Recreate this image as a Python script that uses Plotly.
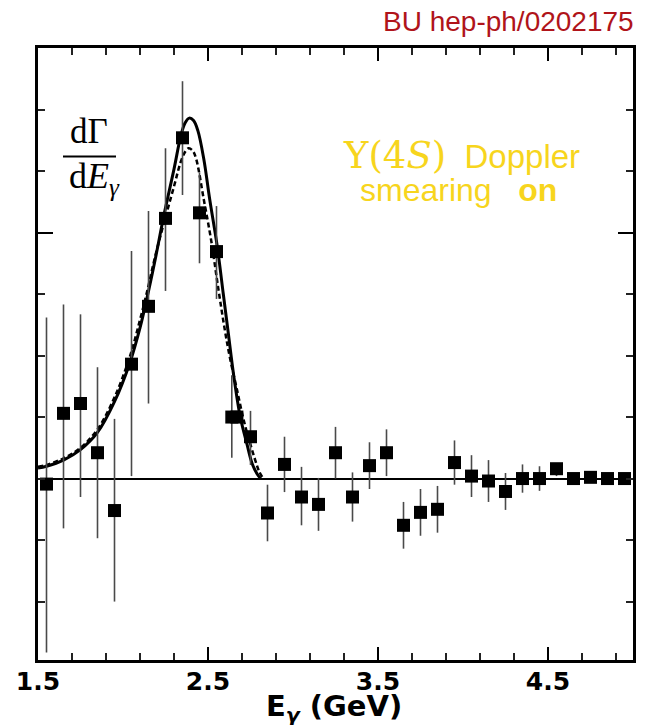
import plotly.graph_objects as go

# ---------------- data ----------------
x_pts = [1.55, 1.65, 1.75, 1.85, 1.95, 2.05, 2.15, 2.25, 2.35, 2.45, 2.55, 2.64, 2.67,
         2.75, 2.85, 2.95, 3.05, 3.15, 3.25, 3.35, 3.45, 3.55, 3.65, 3.75, 3.85, 3.95,
         4.05, 4.15, 4.25, 4.35, 4.45, 4.55, 4.65, 4.75, 4.85, 4.95]
y_pts = [-0.09, 1.06, 1.22, 0.42, -0.52, 1.86, 2.80, 4.23, 5.54, 4.32, 3.69, 1.00, 1.00,
         0.68, -0.56, 0.23, -0.30, -0.42, 0.42, -0.30, 0.21, 0.42, -0.76, -0.55, -0.50, 0.26,
         0.04, -0.04, -0.21, 0.00, 0.00, 0.16, 0.00, 0.02, 0.00, 0.00]
err_up = [2.71, 1.77, 1.45, 1.39, 1.49, 1.84, 1.55, 1.14, 0.92, 0.66, 0.74, 0.68, 0.0,
          0.42, 0.46, 0.45, 0.49, 0.43, 0.42, 0.40, 0.38, 0.38, 0.38, 0.38, 0.38, 0.36,
          0.34, 0.34, 0.30, 0.23, 0.20, 0.05, 0.03, 0.02, 0.0, 0.0]
err_dn = [2.74, 1.87, 1.52, 1.39, 1.48, 1.82, 1.58, 1.18, 0.93, 0.82, 0.77, 0.66, 0.0,
          0.46, 0.46, 0.45, 0.46, 0.43, 0.42, 0.40, 0.38, 0.38, 0.38, 0.38, 0.38, 0.36,
          0.34, 0.34, 0.30, 0.23, 0.20, 0.12, 0.03, 0.02, 0.0, 0.0]

solid_x = [1.50, 1.55, 1.65, 1.75, 1.85, 1.95, 2.04, 2.10, 2.14, 2.19, 2.24, 2.30, 2.34,
           2.365, 2.39, 2.415, 2.44, 2.475, 2.51, 2.554, 2.59, 2.62, 2.65, 2.69, 2.73,
           2.76, 2.79, 2.81]
solid_y = [0.17, 0.20, 0.30, 0.47, 0.75, 1.25, 1.88, 2.45, 2.92, 3.57, 4.27, 5.03, 5.57,
           5.78, 5.86, 5.82, 5.66, 5.20, 4.54, 3.78, 3.00, 2.35, 1.70, 1.00, 0.55,
           0.24, 0.07, 0.0]

dash_x = [1.50, 1.55, 1.65, 1.75, 1.85, 1.95, 2.04, 2.10, 2.14, 2.19, 2.24, 2.30, 2.34,
          2.365, 2.386, 2.41, 2.43, 2.475, 2.52, 2.56, 2.60, 2.63, 2.67, 2.71, 2.75,
          2.78, 2.80, 2.825]
dash_y = [0.19, 0.22, 0.33, 0.50, 0.80, 1.32, 1.98, 2.58, 3.02, 3.62, 4.15, 4.75, 5.15,
          5.31, 5.37, 5.33, 5.20, 4.54, 3.85, 3.10, 2.40, 1.95, 1.45, 0.95, 0.55,
          0.28, 0.12, 0.0]

x_tickvals = [1.5, 2.5, 3.5, 4.5]
x_ticktext = ["1.5", "2.5", "3.5", "4.5"]

# ---------------- figure ----------------
fig = go.Figure()

fig.add_trace(go.Scatter(x=dash_x, y=dash_y, mode="lines", line_shape="spline",
                         line=dict(color="black", width=2.5, dash="5px,3px"),
                         hoverinfo="skip", showlegend=False))
fig.add_trace(go.Scatter(x=solid_x, y=solid_y, mode="lines", line_shape="spline",
                         line=dict(color="black", width=3),
                         hoverinfo="skip", showlegend=False))
fig.add_trace(go.Scatter(
    x=x_pts, y=y_pts, mode="markers",
    marker=dict(symbol="square", size=13, color="black", line=dict(width=0)),
    error_y=dict(type="data", symmetric=False, array=err_up, arrayminus=err_dn,
                 color="#4a4a4a", thickness=1.6, width=0),
    showlegend=False))

# page body has an 8px default margin -> figure is 8px smaller and shifted
OFF = 8
W, H = 645 - OFF, 725 - OFF
PL, PR, PT, PB = 38, 633, 48, 660          # plot area in page pixels
L, R, T, B = PL - OFF, W - (PR - OFF), PT - OFF, H - (PB - OFF)
pw, ph = PR - PL, PB - PT


def px(x):
    return (x - PL) / pw


def py(y):
    return (PB - y) / ph


fig.update_layout(
    width=W, height=H,
    margin=dict(l=L, r=R, t=T, b=B, pad=0, autoexpand=False),
    plot_bgcolor="white", paper_bgcolor="white",
    showlegend=False,
    xaxis=dict(
        range=[1.5, 5.0], tickmode="array", tickvals=x_tickvals, ticktext=x_ticktext,
        ticks="inside", ticklen=13, tickwidth=1.5, tickcolor="black",
        mirror="allticks", showline=True, linewidth=3, linecolor="black",
        showgrid=False, zeroline=False, ticklabelstandoff=-3,
        minor=dict(tick0=1.5, dtick=0.2, ticks="inside", ticklen=7,
                   tickwidth=1.5, tickcolor="#222", showgrid=False),
        tickfont=dict(family="DejaVu Sans", size=25, color="black", weight="bold"),
    ),
    yaxis=dict(
        range=[-2.95, 7.0], tickmode="array", tickvals=[4], showticklabels=False,
        ticks="inside", ticklen=15, tickwidth=1.5, tickcolor="black",
        mirror="allticks", showline=True, linewidth=3, linecolor="black",
        showgrid=False, zeroline=True, zerolinecolor="black", zerolinewidth=1.5,
        minor=dict(tick0=0, dtick=1, ticks="inside", ticklen=7,
                   tickwidth=1.5, tickcolor="#222", showgrid=False),
    ),
)

# x-axis title placed explicitly below the tick labels
fig.add_annotation(x=px(334), y=py(708), xref="paper", yref="paper",
                   text="E<sub><i>γ</i></sub> (GeV)", showarrow=False,
                   xanchor="center", yanchor="middle",
                   font=dict(family="DejaVu Sans", size=29, color="black", weight="bold"))

yellow = "#F7D51D"
fig.add_annotation(x=px(636), y=py(22), xref="paper", yref="paper",
                   text="BU hep-ph/0202175", showarrow=False,
                   xanchor="right", yanchor="middle",
                   font=dict(family="Liberation Sans", size=28, color="#B0141A"))
fig.add_annotation(x=px(89), y=py(132), xref="paper", yref="paper",
                   text="dΓ", showarrow=False, xanchor="center", yanchor="middle",
                   font=dict(family="Liberation Serif", size=35, color="black"))
fig.add_annotation(x=px(94), y=py(178), xref="paper", yref="paper",
                   text="d<i>E</i><sub><i>γ</i></sub>", showarrow=False,
                   xanchor="center", yanchor="middle",
                   font=dict(family="Liberation Serif", size=36, color="black"))
fig.add_shape(type="line", xref="paper", yref="paper",
              x0=px(63), x1=px(116), y0=py(156.5), y1=py(156.5),
              line=dict(color="black", width=2))
fig.add_annotation(x=px(461), y=py(155), xref="paper", yref="paper",
                   text="<span style='font-family:DejaVu Serif;font-size:37px'>Υ(4<i>S</i>)</span>&nbsp; Doppler",
                   showarrow=False, xanchor="center", yanchor="middle",
                   font=dict(family="Liberation Sans", size=33, color=yellow))
fig.add_annotation(x=px(458), y=py(190), xref="paper", yref="paper",
                   text="smearing&nbsp;&nbsp;&nbsp;<b>on</b>",
                   showarrow=False, xanchor="center", yanchor="middle",
                   font=dict(family="Liberation Sans", size=32, color=yellow))

fig.write_html("out.html")
